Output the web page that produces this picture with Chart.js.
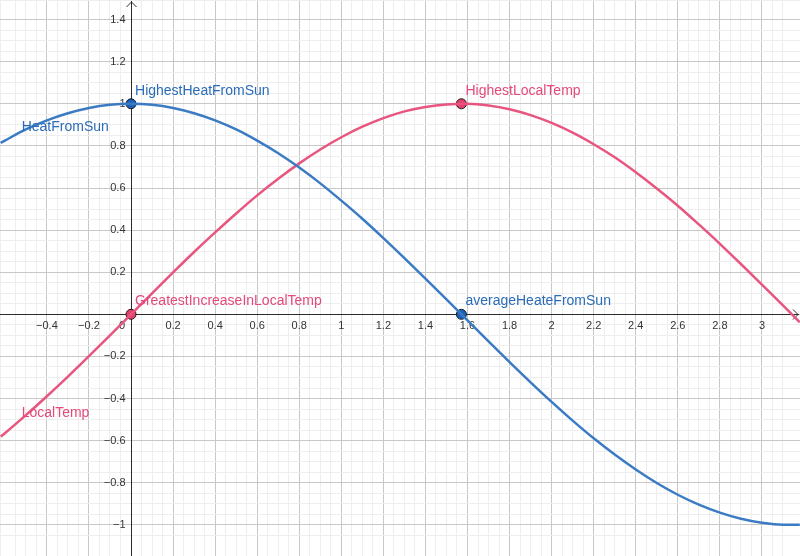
<!DOCTYPE html>
<html>
<head>
<meta charset="utf-8">
<script src="https://cdn.jsdelivr.net/npm/chart.js@4/dist/chart.umd.min.js"></script>
<style>
  html, body { margin: 0; padding: 0; background: #fff; }
  canvas { display: block; }
</style>
</head>
<body>
<canvas id="myChart" width="800" height="556"></canvas>
<script>
// values
var xs = [-0.62, -0.6, -0.5, -0.4, -0.3, -0.2, -0.1, 0, 0.1, 0.2, 0.3, 0.4, 0.5, 0.6, 0.7, 0.8, 0.9, 1.0,
  1.1, 1.2, 1.3, 1.4, 1.5, 1.6, 1.7, 1.8, 1.9, 2.0, 2.1, 2.2, 2.3, 2.4, 2.5, 2.6, 2.7, 2.8, 2.9, 3.0, 3.1, 3.18];
var heatFromSun = [0.814, 0.825, 0.878, 0.921, 0.955, 0.980, 0.995, 1, 0.995, 0.980, 0.955, 0.921, 0.878, 0.825, 0.765, 0.697, 0.622, 0.540,
  0.454, 0.362, 0.267, 0.170, 0.071, -0.029, -0.129, -0.227, -0.323, -0.416, -0.505, -0.589, -0.666, -0.737, -0.801, -0.857, -0.904, -0.942, -0.971, -0.990, -0.999, -0.999];
var localTemp = [-0.581, -0.565, -0.479, -0.389, -0.296, -0.199, -0.100, 0, 0.100, 0.199, 0.296, 0.389, 0.479, 0.565, 0.644, 0.717, 0.783, 0.841,
  0.891, 0.932, 0.964, 0.985, 0.997, 1.000, 0.992, 0.974, 0.946, 0.909, 0.863, 0.808, 0.746, 0.675, 0.598, 0.516, 0.427, 0.335, 0.239, 0.141, 0.042, -0.038];

var bluePoints = [{ x: 0, y: 1, label: 'HighestHeatFromSun' }, { x: 1.571, y: 0, label: 'averageHeateFromSun' }];
var pinkPoints = [{ x: 0, y: 0, label: 'GreatestIncreaseInLocalTemp' }, { x: 1.571, y: 1, label: 'HighestLocalTemp' }];

var xTickLabels = [-0.4, -0.2, 0, 0.2, 0.4, 0.6, 0.8, 1, 1.2, 1.4, 1.6, 1.8, 2, 2.2, 2.4, 2.6, 2.8, 3];
var yTickLabels = [1.4, 1.2, 1, 0.8, 0.6, 0.4, 0.2, -0.2, -0.4, -0.6, -0.8, -1];

var BLUE = '#3b7bc4';
var BLUE_DOT = '#1a62bd';
var BLUE_TEXT = '#2a6cb8';
var PINK = '#e8567f';
var PINK_DOT = '#e83f6c';
var PINK_TEXT = '#e4497a';

function toXY(xArr, yArr) {
  var out = [];
  for (var i = 0; i < xArr.length; i++) out.push({ x: xArr[i], y: yArr[i] });
  return out;
}

function gridColor(c) {
  var v = c.tick.value;
  var r = v / 0.2;
  if (Math.abs(r - Math.round(r)) < 1e-6) return '#c8c8c8';
  return '#eeeeee';
}

function fmt(v) {
  var s = (Math.round(v * 10) / 10).toString();
  return s.replace('-', '\u2212');
}

// axes, arrows and tick numbers drawn on top of the grid
var axesPlugin = {
  id: 'axes',
  beforeDatasetsDraw: function (chart) {
    var ctx = chart.ctx;
    var xs_ = chart.scales.x, ys_ = chart.scales.y;
    var ca = chart.chartArea;
    var x0 = Math.round(xs_.getPixelForValue(0)) + 0.5;
    var y0 = Math.round(ys_.getPixelForValue(0)) + 0.5;
    ctx.save();
    ctx.strokeStyle = '#2b2b2b';
    ctx.lineWidth = 1;
    ctx.beginPath();
    ctx.moveTo(ca.left, y0); ctx.lineTo(ca.right - 1, y0);
    ctx.moveTo(x0, ca.top + 1); ctx.lineTo(x0, ca.bottom);
    // arrows
    ctx.moveTo(ca.right - 7, y0 - 5); ctx.lineTo(ca.right - 2, y0); ctx.lineTo(ca.right - 7, y0 + 5);
    ctx.moveTo(x0 - 5, ca.top + 7); ctx.lineTo(x0, ca.top + 2); ctx.lineTo(x0 + 5, ca.top + 7);
    ctx.stroke();

    ctx.fillStyle = '#333';
    ctx.font = '11px "Liberation Sans", Arial, sans-serif';
    ctx.textBaseline = 'middle';
    ctx.textAlign = 'center';
    xTickLabels.forEach(function (v) {
      var px = xs_.getPixelForValue(v);
      if (v === 0) px -= 9;
      ctx.fillText(fmt(v), px, y0 + 11);
    });
    ctx.textAlign = 'right';
    yTickLabels.forEach(function (v) {
      ctx.fillText(fmt(v), x0 - 6, ys_.getPixelForValue(v));
    });
    ctx.restore();
  },
  afterDatasetsDraw: function (chart) {
    var ctx = chart.ctx;
    var sx = chart.scales.x, sy = chart.scales.y;
    ctx.save();
    ctx.font = '14px "Liberation Sans", Arial, sans-serif';
    ctx.textAlign = 'left';
    ctx.textBaseline = 'alphabetic';
    ctx.fillStyle = BLUE_TEXT;
    bluePoints.forEach(function (p) {
      ctx.fillText(p.label, sx.getPixelForValue(p.x) + 4, sy.getPixelForValue(p.y) - 9);
    });
    ctx.fillText('HeatFromSun', sx.getPixelForValue(-0.52), sy.getPixelForValue(0.87));
    ctx.fillStyle = PINK_TEXT;
    pinkPoints.forEach(function (p) {
      ctx.fillText(p.label, sx.getPixelForValue(p.x) + 4, sy.getPixelForValue(p.y) - 9);
    });
    ctx.fillText('LocalTemp', sx.getPixelForValue(-0.52), sy.getPixelForValue(-0.49));
    ctx.restore();
  }
};

var ctx = document.getElementById('myChart').getContext('2d');
var chart = new Chart(ctx, {
  type: 'scatter',
  data: {
    datasets: [
      {
        label: 'HeatFromSun',
        data: toXY(xs, heatFromSun),
        showLine: true,
        borderColor: BLUE,
        borderWidth: 2.5,
        pointRadius: 0,
        cubicInterpolationMode: 'monotone'
      },
      {
        label: 'LocalTemp',
        data: toXY(xs, localTemp),
        showLine: true,
        borderColor: PINK,
        borderWidth: 2.5,
        pointRadius: 0,
        cubicInterpolationMode: 'monotone'
      },
      {
        label: 'blue points',
        data: bluePoints,
        pointRadius: 5,
        pointBackgroundColor: BLUE_DOT,
        pointBorderColor: '#1c1c1c',
        pointBorderWidth: 1
      },
      {
        label: 'pink points',
        data: pinkPoints,
        pointRadius: 5,
        pointBackgroundColor: PINK_DOT,
        pointBorderColor: '#1c1c1c',
        pointBorderWidth: 1
      }
    ]
  },
  options: {
    responsive: false,
    animation: false,
    devicePixelRatio: 1,
    layout: { padding: 0, autoPadding: false },
    plugins: {
      legend: { display: false },
      tooltip: { enabled: false }
    },
    scales: {
      x: {
        type: 'linear',
        min: -0.623,
        max: 3.181,
        border: { display: false },
        grid: { color: gridColor, drawTicks: false, lineWidth: 1 },
        ticks: { display: false, stepSize: 0.05, maxTicksLimit: 1000 }
      },
      y: {
        type: 'linear',
        min: -1.148,
        max: 1.493,
        border: { display: false },
        grid: { color: gridColor, drawTicks: false, lineWidth: 1 },
        ticks: { display: false, stepSize: 0.05, maxTicksLimit: 1000 }
      }
    }
  },
  plugins: [axesPlugin]
});
</script>
</body>
</html>
